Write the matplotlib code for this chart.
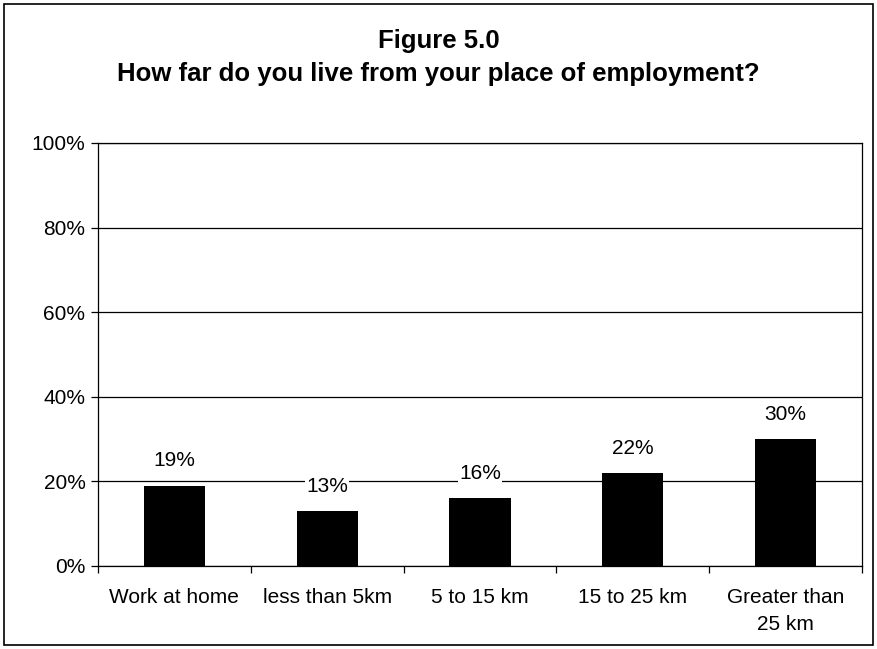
import matplotlib.pyplot as plt
from matplotlib.patches import Rectangle
import numpy as np

plt.rcParams['font.family'] = ['Liberation Sans', 'DejaVu Sans']

categories = ['Work at home', 'less than 5km', '5 to 15 km', '15 to 25 km', 'Greater than\n25 km']
shares = [0.19, 0.13, 0.16, 0.22, 0.30]

fig = plt.figure(figsize=(8.77, 6.49), dpi=100)
ax = fig.add_axes([0.1117, 0.1279, 0.8713, 0.6518])

x = np.arange(len(categories))
ax.bar(x, shares, width=0.4, color='black', zorder=3)

for xi, v in zip(x, shares):
    ax.annotate(f'{v:.0%}', (xi, v), xytext=(0, 11), textcoords='offset points',
                ha='center', va='bottom', fontsize=15, zorder=4,
                bbox=dict(boxstyle='square,pad=0.05', fc='white', ec='none'))

ax.set_xlim(-0.5, len(categories) - 0.5)
ax.set_ylim(0, 1)
yt = np.arange(0, 1.01, 0.2)
ax.set_yticks(yt)
ax.set_yticklabels([f'{int(round(t * 100))}%' for t in yt], fontsize=15)
ax.yaxis.grid(True, color='black', linewidth=0.9, zorder=0)
ax.tick_params(axis='y', direction='out', length=5, width=0.9, pad=4)

# category labels at centers, tick marks between categories
ax.set_xticks(x)
ax.set_xticklabels(categories, fontsize=15, linespacing=1.5)
ax.tick_params(axis='x', which='major', length=0, pad=16)
ax.set_xticks(np.arange(-0.5, len(categories)), minor=True)
ax.tick_params(axis='x', which='minor', direction='out', length=5, width=0.9)

for s in ax.spines.values():
    s.set_linewidth(0.9)
    s.set_color('black')

fig.text(0.5, 0.937, 'Figure 5.0', ha='center', va='center', fontsize=18.5, fontweight='bold')
fig.text(0.5, 0.886, 'How far do you live from your place of employment?', ha='center',
         va='center', fontsize=18.5, fontweight='bold')

fig.patches.append(Rectangle((0.005, 0.006), 0.99, 0.988, transform=fig.transFigure,
                             fill=False, ec='black', lw=1.2))

fig.savefig('out.png', dpi=100)
